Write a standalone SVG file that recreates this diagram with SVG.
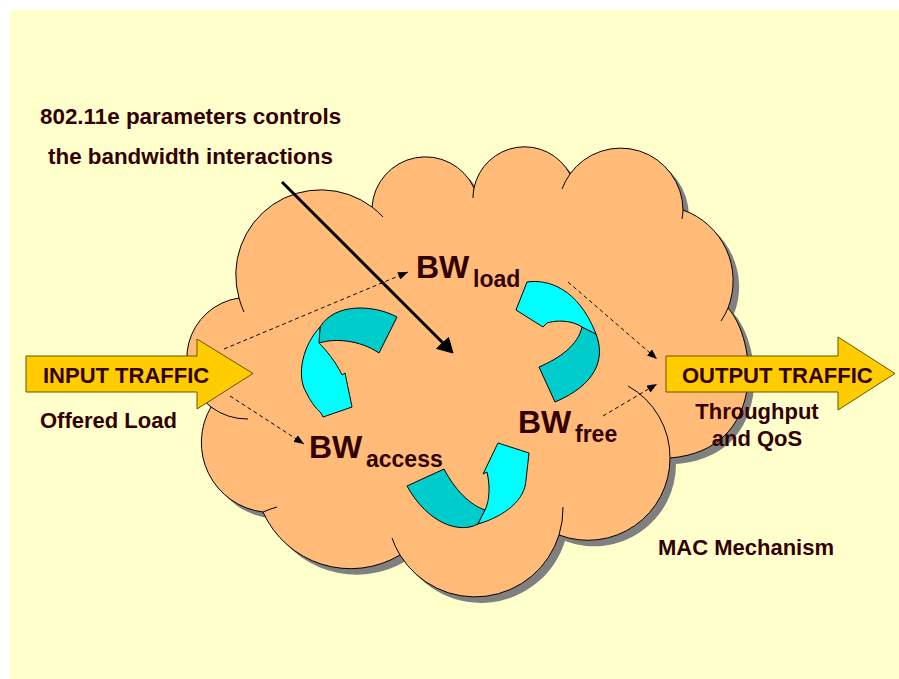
<svg xmlns="http://www.w3.org/2000/svg" width="899" height="679" viewBox="0 0 899 679">
  <style>
    .lbl { font-family: "Liberation Sans", Arial, sans-serif; font-weight: bold; fill: #330000; }
    .small { font-size: 22px; }
    .title { font-size: 22.4px; }
    .bw { font-size: 32px; }
    .sub { font-size: 23px; }
    .cloud { fill: #FFBB77; stroke: #000; stroke-width: 1; }
    .seam { fill: none; stroke: #000; stroke-width: 1; }
    .block { fill: #FFCC00; stroke: #6B5200; stroke-width: 1; }
    .front { fill: #00FFFF; stroke: #000; stroke-width: 1; stroke-linejoin: round; }
    .back { fill: #00CCCC; stroke: #000; stroke-width: 1; stroke-linejoin: round; }
    .dash { fill: none; stroke: #1A0000; stroke-width: 1; stroke-dasharray: 4 3; marker-end: url(#tip); }
  </style>
  <defs>
    <path id="cloudShape" d="M239,298 A85,85 0 0 1 372,207 A53.5,53.5 0 0 1 474,188 A51.6,51.6 0 0 1 570,174 A62.4,62.4 0 0 1 683,210 A75,75 0 0 1 728,308 C757,340 768,450 670,458 A82,82 0 0 1 559,535 A88,88 0 0 1 400,555 A96,96 0 0 1 263,512 A70,70 0 0 1 211,407 A61,61 0 0 1 239,298 Z"/>
    <marker id="tip" markerWidth="10" markerHeight="8" refX="10" refY="4" orient="auto" markerUnits="userSpaceOnUse">
      <path d="M0,0 L10,4 L0,8 Z" fill="#000"/>
    </marker>
  </defs>

  <!-- page -->
  <rect x="0" y="0" width="899" height="679" fill="#FFFFFF"/>
  <rect x="10" y="10" width="889" height="669" fill="#FFFFCC"/>

  <!-- MAC mechanism cloud -->
  <g id="cloud">
    <use href="#cloudShape" transform="translate(6,6)" fill="#808080"/>
    <use href="#cloudShape" class="cloud"/>
    <path class="seam" d="M239,298 A85,85 0 0 0 244,312"/>
    <path class="seam" d="M372,207 A85,85 0 0 1 383,217"/>
    <path class="seam" d="M474,188 A51.6,51.6 0 0 0 473,198"/>
    <path class="seam" d="M570,174 A62.4,62.4 0 0 0 562,189"/>
    <path class="seam" d="M683,210 A62.4,62.4 0 0 1 682,219"/>
    <path class="seam" d="M728,308 A75,75 0 0 1 721,321"/>
    <path class="seam" d="M628,386 A82,82 0 0 1 670,458"/>
    <path class="seam" d="M559,535 A88,88 0 0 0 563,507"/>
    <path class="seam" d="M400,555 A88,88 0 0 1 392,538"/>
    <path class="seam" d="M263,512 Q270,509 277,507"/>
    <path class="seam" d="M211,407 A61,61 0 0 0 248,419"/>
  </g>

  <!-- bandwidth cycle: three twisted ribbons -->
  <g id="cycle-arrows">
    <g id="ribbon-load-access">
      <path class="back" d="M397,317 C375,305 335,302 320,327 L319,343 C335,338 360,340 379,353 Z"/>
      <path class="front" d="M320,327 C303,345 296,375 306,392 Q312,405 321,413 L323,417 L352,407 L345,373 L342,375 C336,362 326,350 319,343 Z"/>
    </g>
    <g id="ribbon-free-load">
      <path class="back" d="M596,334 C606,360 595,385 555,402 L539,367 C560,358 578,345 582,327 Z"/>
      <path class="front" d="M527,282 C548,279 578,288 596,334 L582,327 C572,320 556,320 547,323 L543,327 L516,310 Z"/>
    </g>
    <g id="ribbon-access-free">
      <path class="back" d="M407,486 L444,469 C455,490 470,505 485,510 L478,524 C460,534 428,524 407,486 Z"/>
      <path class="front" d="M478,524 C505,516 525,500 526,480 L529,453 L498,443 L483,474 L487,472 C490,485 490,500 485,510 Z"/>
    </g>
  </g>

  <!-- traffic blocks -->
  <g id="input-traffic">
    <path class="block" d="M26,356 H197 V339 L253,373.5 L197,409 V392 H26 Z"/>
    <text class="lbl small" x="43" y="383">INPUT TRAFFIC</text>
  </g>
  <g id="output-traffic">
    <path class="block" d="M666,356 H838 V337 L895,373.5 L838,410 V392 H666 Z"/>
    <text class="lbl small" x="682" y="383">OUTPUT TRAFFIC</text>
  </g>

  <!-- bandwidth nodes -->
  <g id="bw-load">
    <text class="lbl bw" x="416" y="278">BW</text>
    <text class="lbl sub" x="473" y="287">load</text>
  </g>
  <g id="bw-access">
    <text class="lbl bw" x="309" y="458">BW</text>
    <text class="lbl sub" x="366" y="467">access</text>
  </g>
  <g id="bw-free">
    <text class="lbl bw" x="518" y="433">BW</text>
    <text class="lbl sub" x="575" y="442">free</text>
  </g>

  <!-- flow connectors -->
  <g id="connectors">
    <path class="dash" d="M224,349 L408,272"/>
    <path class="dash" d="M230,396 L304,444"/>
    <path class="dash" d="M568,282 L657,359"/>
    <path class="dash" d="M603,416 L657,384"/>
    <g id="control-arrow">
      <line x1="282" y1="182" x2="444" y2="344" stroke="#000" stroke-width="3"/>
      <path d="M453,353 L436.5,348.5 L448.5,337.5 Z" fill="#000" stroke="#000" stroke-width="1"/>
    </g>
  </g>

  <!-- captions -->
  <g id="captions">
    <text class="lbl title" x="40" y="124">802.11e parameters controls</text>
    <text class="lbl title" x="48" y="164">the bandwidth interactions</text>
    <text class="lbl small" x="40" y="428">Offered Load</text>
    <text class="lbl small" x="757" y="419" text-anchor="middle">Throughput</text>
    <text class="lbl small" x="757" y="446" text-anchor="middle">and QoS</text>
    <text class="lbl small" x="658" y="555">MAC Mechanism</text>
  </g>
</svg>
